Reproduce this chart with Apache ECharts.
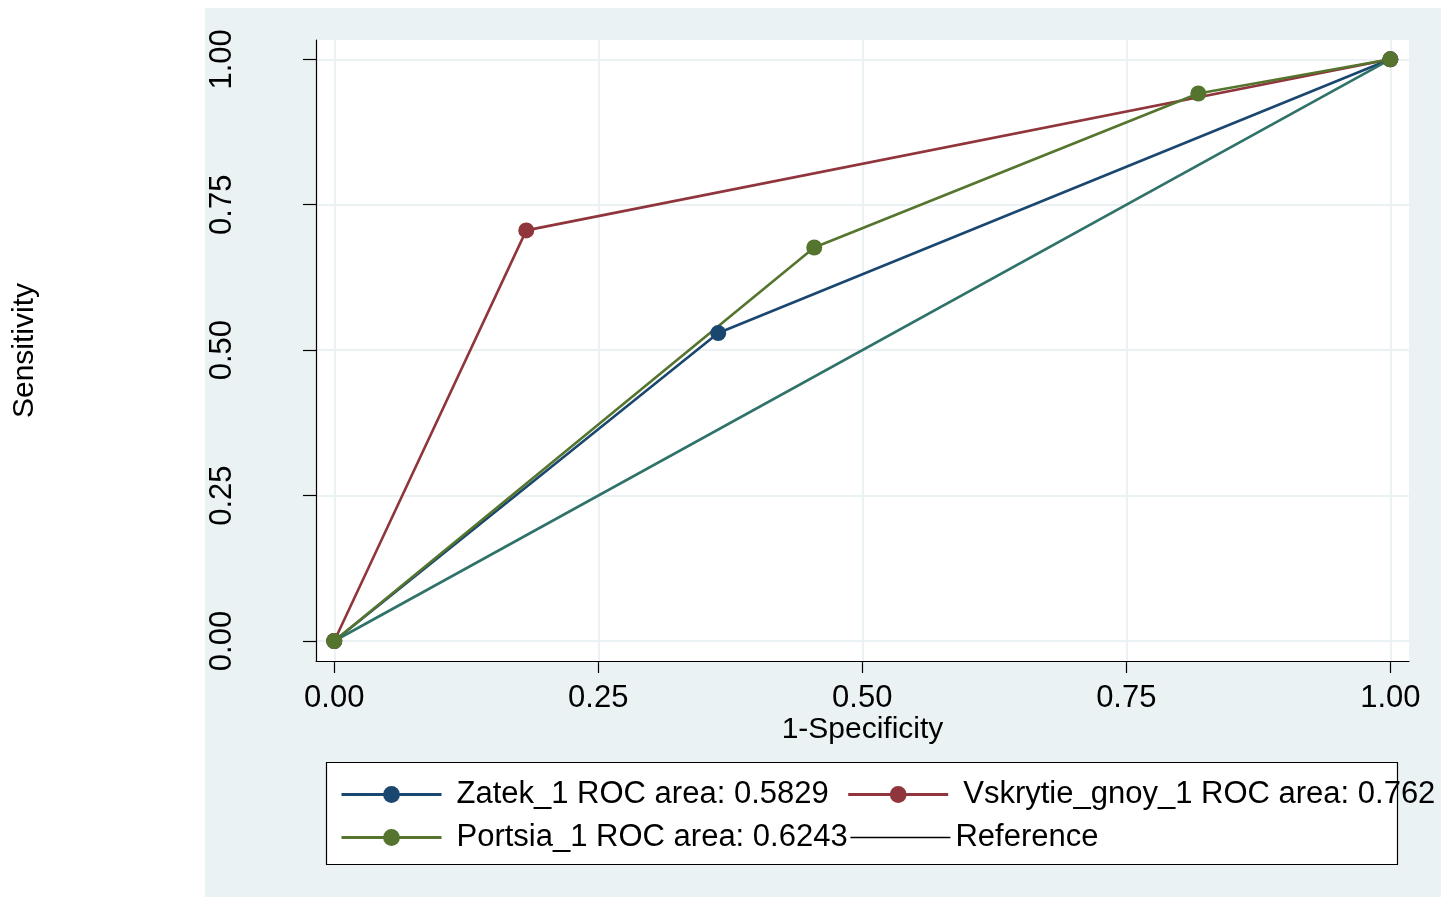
<!DOCTYPE html>
<html>
<head>
<meta charset="utf-8">
<script src="https://cdn.jsdelivr.net/npm/echarts@6/dist/echarts.min.js"></script>
<style>
html, body { margin: 0; padding: 0; background: #fff; }
#chart { width: 1451px; height: 897px; }
</style>
</head>
<body>
<div id="chart"></div>
<script>
// data
const tickValues = [0, 0.25, 0.5, 0.75, 1];
const zatekX = [0, 0.3636, 1];
const zatekY = [0, 0.5294, 1];
const vskrytieX = [0, 0.1818, 1];
const vskrytieY = [0, 0.7059, 1];
const portsiaX = [0, 0.4545, 0.8182, 1];
const portsiaY = [0, 0.6765, 0.9412, 1];
const referenceX = [0, 1];
const referenceY = [0, 1];
const seriesNames = [
    'Zatek_1 ROC area: 0.5829',
    'Vskrytie_gnoy_1 ROC area: 0.762',
    'Portsia_1 ROC area: 0.6243',
    'Reference'
];

const font = 'Liberation Sans, Arial, sans-serif';
const zip = (xs, ys) => xs.map((x, i) => [x, ys[i]]);

const rocSeries = (name, data, color, withMarkers) => {
    return {
        name: name,
        type: 'line',
        data: data,
        symbol: 'circle',
        symbolSize: 16,
        showSymbol: withMarkers,
        animation: false,
        lineStyle: { color: color, width: 2.6 },
        itemStyle: { color: color },
        emphasis: { disabled: true }
    }
}

// one legend per row, the box around them is a graphic rect
const legendRow = (top, gap, data) => {
    return {
        left: 340,
        top: top,
        padding: 0,
        itemGap: gap,
        itemWidth: 100,
        itemHeight: 21,
        selectedMode: false,
        lineStyle: { width: 3 },
        textStyle: {
            fontSize: 31,
            color: '#000',
            fontFamily: font,
            lineHeight: 33,
            padding: [0, 0, 0, 10]
        },
        data: data
    }
}

const getOption = () => {
    return {
        animation: false,
        graphic: [
            {
                type: 'rect',
                z: -100,
                shape: { x: 205, y: 8, width: 1236, height: 900 },
                style: { fill: '#EAF2F3' }
            },
            {
                type: 'rect',
                z: -50,
                shape: { x: 326.5, y: 762.5, width: 1071, height: 102 },
                style: { fill: '#fff', stroke: '#000', lineWidth: 1.2 }
            }
        ],
        grid: {
            left: 316,
            right: 42,
            top: 40,
            bottom: 236,
            show: true,
            backgroundColor: '#fff',
            borderWidth: 0
        },
        xAxis: {
            type: 'value',
            min: -0.0173,
            max: 1.0177,
            name: '1-Specificity',
            nameLocation: 'middle',
            nameGap: 54,
            nameMoveOverlap: false,
            nameTextStyle: { fontSize: 30, color: '#000', fontFamily: font },
            axisLine: { show: true, onZero: false, lineStyle: { color: '#000', width: 1.2 } },
            axisTick: { show: true, length: 12, customValues: tickValues, lineStyle: { color: '#000', width: 1.2 } },
            axisLabel: {
                customValues: tickValues,
                formatter: v => v.toFixed(2),
                fontSize: 31,
                color: '#000',
                fontFamily: font,
                margin: 22
            },
            splitLine: { show: true, lineStyle: { color: '#EAF2F3', width: 2 } }
        },
        yAxis: {
            type: 'value',
            min: -0.0344,
            max: 1.0332,
            name: 'Sensitivity',
            nameLocation: 'middle',
            nameGap: 276,
            nameMoveOverlap: false,
            nameTextStyle: { fontSize: 30, color: '#000', fontFamily: font },
            axisLine: { show: true, onZero: false, lineStyle: { color: '#000', width: 1.2 } },
            axisTick: { show: true, length: 13, customValues: tickValues, lineStyle: { color: '#000', width: 1.2 } },
            axisLabel: {
                customValues: tickValues,
                formatter: v => v.toFixed(2),
                rotate: 90,
                fontSize: 31,
                color: '#000',
                fontFamily: font,
                margin: 78
            },
            splitLine: { show: true, lineStyle: { color: '#EAF2F3', width: 2 } }
        },
        legend: [
            legendRow(778, 18, [
                { name: seriesNames[0] },
                { name: seriesNames[1] }
            ]),
            legendRow(821, 2, [
                { name: seriesNames[2] },
                {
                    name: seriesNames[3],
                    itemStyle: { opacity: 0 },
                    lineStyle: { color: '#000', width: 1.5 },
                    textStyle: { padding: 0 }
                }
            ])
        ],
        series: [
            rocSeries(seriesNames[0], zip(zatekX, zatekY), '#1A476F', true),
            rocSeries(seriesNames[1], zip(vskrytieX, vskrytieY), '#90353B', true),
            rocSeries(seriesNames[2], zip(portsiaX, portsiaY), '#55752F', true),
            rocSeries(seriesNames[3], zip(referenceX, referenceY), '#2E7268', false)
        ]
    }
}

let chart;
document.addEventListener('DOMContentLoaded', function(){
    chart = echarts.init(document.getElementById('chart'));
    chart.setOption(getOption());
});
</script>
</body>
</html>
